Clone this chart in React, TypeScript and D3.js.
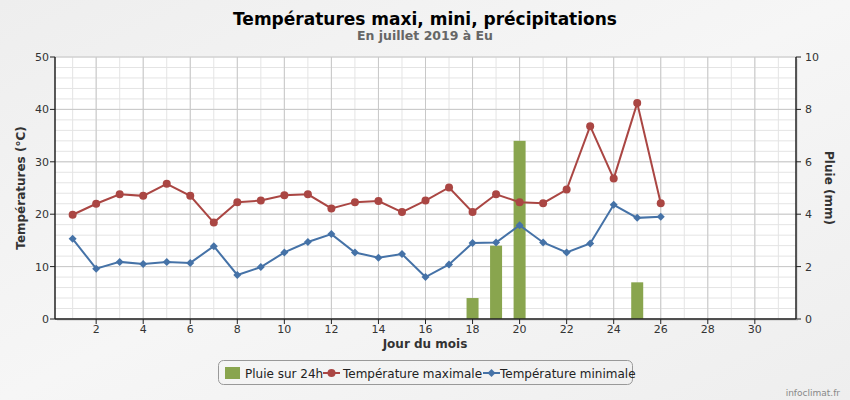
import React from "react";
import * as d3 from "d3";

const days = d3.range(1, 27);
const tmax = [19.9, 22.0, 23.8, 23.5, 25.8, 23.5, 18.4, 22.3, 22.6, 23.6, 23.8, 21.1, 22.3, 22.5, 20.4, 22.6, 25.1, 20.4, 23.8, 22.3, 22.1, 24.7, 36.8, 26.8, 41.2, 22.1];
const tmin = [15.3, 9.6, 10.9, 10.5, 10.9, 10.7, 13.9, 8.4, 9.9, 12.7, 14.7, 16.2, 12.7, 11.7, 12.4, 8.0, 10.4, 14.5, 14.6, 17.9, 14.6, 12.7, 14.4, 21.8, 19.3, 19.5];
const rainDays = [18, 19, 20, 25];
const rainVals = [0.8, 2.8, 6.8, 1.4];
const xTicks = [2, 4, 6, 8, 10, 12, 14, 16, 18, 20, 22, 24, 26, 28, 30];
const yTicks = [0, 10, 20, 30, 40, 50];
const y2Ticks = [0, 2, 4, 6, 8, 10];

const W = 850, H = 400;
const L = 55, R = 796, T = 57, B = 319;
const FONT = "DejaVu Sans, Verdana, sans-serif";
const RED = "#AA4643", BLUE = "#4572A7", GREEN = "#89A54E";

export default function App() {
  const x = d3.scaleLinear().domain([0.25, 31.75]).range([L, R]);
  const y = d3.scaleLinear().domain([0, 50]).range([B, T]);
  const y2 = d3.scaleLinear().domain([0, 10]).range([B, T]);
  const maxPath = d3.line<number>().x((_, i) => x(days[i])).y((d) => y(d))(tmax) || "";
  const minPath = d3.line<number>().x((_, i) => x(days[i])).y((d) => y(d))(tmin) || "";
  const minorX = d3.range(1, 32);
  const minorY = d3.range(0, 51, 2);
  const barW = 12;
  const diamond = (cx: number, cy: number, r: number) => `M${cx},${cy - r}L${cx + r},${cy}L${cx},${cy + r}L${cx - r},${cy}Z`;

  return (
    <div style={{ position: "absolute", left: 0, top: 0 }}>
      <svg width={W} height={H} style={{ display: "block" }} fontFamily={FONT}>
        <defs>
          <linearGradient id="bg" x1="0" y1="0" x2="1" y2="1">
            <stop offset="0" stopColor="#eeeeee" />
            <stop offset="0.5" stopColor="#f6f6f6" />
            <stop offset="1" stopColor="#eeeeee" />
          </linearGradient>
        </defs>
        <rect width={W} height={H} fill="url(#bg)" />
        <rect x={L + 2} y={T + 2} width={R - L} height={B - T} fill="#bbb" opacity={0.4} />
        <rect x={L} y={T} width={R - L} height={B - T} fill="#fff" />
        {minorX.map((d) => (
          <line key={"mx" + d} x1={x(d)} x2={x(d)} y1={T} y2={B} stroke="#e4e4e4" strokeWidth={1} />
        ))}
        {minorY.map((d) => (
          <line key={"my" + d} x1={L} x2={R} y1={y(d)} y2={y(d)} stroke="#e4e4e4" strokeWidth={1} />
        ))}
        {xTicks.map((d) => (
          <line key={"gx" + d} x1={x(d)} x2={x(d)} y1={T} y2={B} stroke="#c8c8c8" strokeWidth={1} />
        ))}
        {yTicks.map((d) => (
          <line key={"gy" + d} x1={L} x2={R} y1={y(d)} y2={y(d)} stroke="#c8c8c8" strokeWidth={1} />
        ))}
        {rainDays.map((d, i) => (
          <rect key={"b" + d} x={x(d) - barW / 2} y={y2(rainVals[i])} width={barW} height={B - y2(rainVals[i])} fill={GREEN} />
        ))}
        <path d={maxPath} fill="none" stroke={RED} strokeWidth={2} />
        <path d={minPath} fill="none" stroke={BLUE} strokeWidth={2} />
        {tmax.map((v, i) => (
          <circle key={"c" + i} cx={x(days[i])} cy={y(v)} r={4} fill={RED} />
        ))}
        {tmin.map((v, i) => (
          <path key={"d" + i} d={diamond(x(days[i]), y(v), 4)} fill={BLUE} />
        ))}
        <line x1={L} x2={L} y1={T} y2={B} stroke="#222" strokeWidth={1.5} />
        <line x1={R} x2={R} y1={T} y2={B} stroke="#222" strokeWidth={1.5} />
        <line x1={L} x2={R} y1={B} y2={B} stroke="#222" strokeWidth={1.5} />
        {yTicks.map((d) => (
          <g key={"yt" + d}>
            <line x1={L - 5} x2={L} y1={y(d)} y2={y(d)} stroke="#222" />
            <text x={L - 6} y={y(d) + 4} textAnchor="end" fontSize={11} fill="#333">{d}</text>
          </g>
        ))}
        {y2Ticks.map((d) => (
          <g key={"y2t" + d}>
            <line x1={R} x2={R + 5} y1={y2(d)} y2={y2(d)} stroke="#222" />
            <text x={R + 9} y={y2(d) + 4} textAnchor="start" fontSize={11} fill="#333">{d}</text>
          </g>
        ))}
        {xTicks.map((d) => (
          <g key={"xt" + d}>
            <line x1={x(d)} x2={x(d)} y1={B} y2={B + 5} stroke="#222" />
            <text x={x(d)} y={B + 14} textAnchor="middle" fontSize={11} fill="#333">{d}</text>
          </g>
        ))}
        <text x={425} y={348} textAnchor="middle" fontSize={12} fontWeight="bold" fill="#333">Jour du mois</text>
        <text transform={`translate(25,${(T + B) / 2}) rotate(-90)`} textAnchor="middle" fontSize={12} fontWeight="bold" fill="#333">Températures (°C)</text>
        <text transform={`translate(825,${(T + B) / 2}) rotate(90)`} textAnchor="middle" fontSize={12} fontWeight="bold" fill="#333">Pluie (mm)</text>
        <text x={425} y={25} textAnchor="middle" fontSize={17} fontWeight="bold" fill="#000">Températures maxi, mini, précipitations</text>
        <text x={425} y={40} textAnchor="middle" fontSize={12.5} fontWeight="bold" fill="#666">En juillet 2019 à Eu</text>
        <rect x={218.5} y={360.5} width={414} height={24} rx={5} fill="none" stroke="#999" />
        <rect x={225} y={367} width={15} height={12} fill={GREEN} />
        <text x={245} y={378} fontSize={12} fill="#222">Pluie sur 24h</text>
        <line x1={323} x2={340} y1={373} y2={373} stroke={RED} strokeWidth={2} />
        <circle cx={331.5} cy={373} r={4} fill={RED} />
        <text x={343} y={378} fontSize={12} fill="#222">Température maximale</text>
        <line x1={483} x2={500} y1={373} y2={373} stroke={BLUE} strokeWidth={2} />
        <path d={diamond(491.5, 373, 4)} fill={BLUE} />
        <text x={500} y={378} fontSize={12} fill="#222">Température minimale</text>
        <text x={840} y={396} textAnchor="end" fontSize={9} fill="#888">infoclimat.fr</text>
      </svg>
    </div>
  );
}
